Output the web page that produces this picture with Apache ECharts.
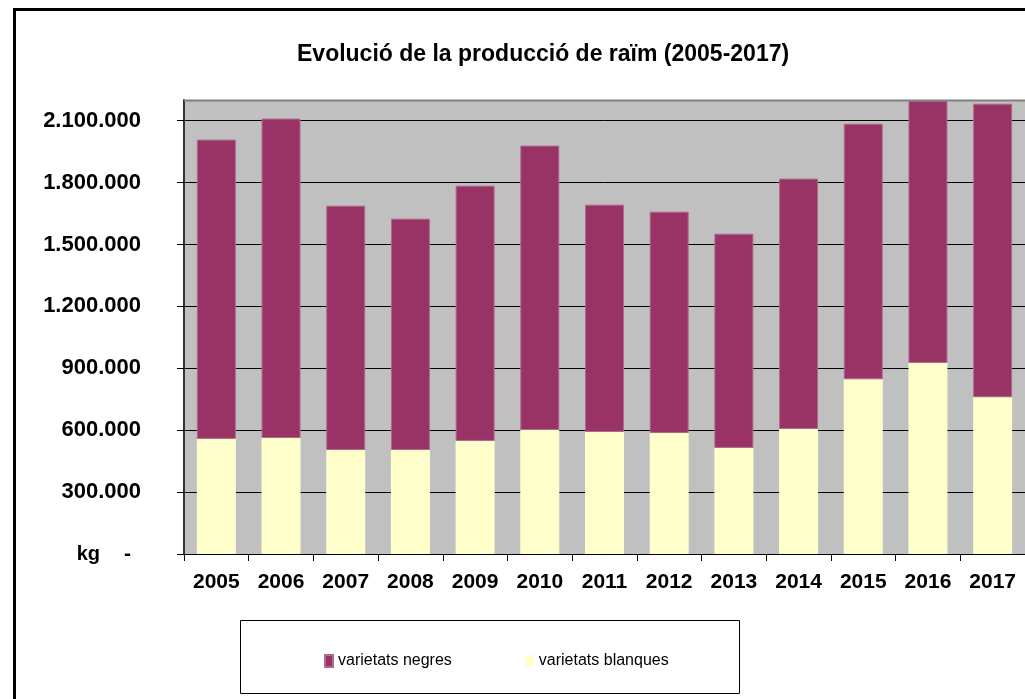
<!DOCTYPE html>
<html>
<head>
<meta charset="utf-8">
<script src="https://cdn.jsdelivr.net/npm/echarts@6/dist/echarts.min.js"></script>
<style>
  html, body { margin: 0; padding: 0; background: #fff; }
  #chart { width: 1025px; height: 699px; }
</style>
</head>
<body>
<div id="chart"></div>
<script>
// dades llegides del gràfic (kg)
var years = ['2005', '2006', '2007', '2008', '2009', '2010', '2011', '2012', '2013', '2014', '2015', '2016', '2017'];
var blanques = [558000, 562000, 504000, 504000, 548000, 601000, 591000, 586000, 514000, 606000, 847000, 926000, 760000];
var negres = [1450000, 1548000, 1184000, 1121000, 1237000, 1378000, 1102000, 1073000, 1038000, 1213000, 1238000, 1270000, 1422000];
var yTicks = [0, 300000, 600000, 900000, 1200000, 1500000, 1800000, 2100000];

var FONT = '"Liberation Sans", Arial, sans-serif';

function fmt(v) {
  return String(v).replace(/\B(?=(\d{3})+(?!\d))/g, '.');
}

var chart = echarts.init(document.getElementById('chart'));

var option = {
  backgroundColor: '#fff',
  animation: false,
  title: {
    text: 'Evolució de la producció de raïm (2005-2017)',
    left: 292,
    top: 38,
    textStyle: { fontFamily: FONT, fontSize: 23, fontWeight: 'bold', color: '#000' }
  },
  legend: {
    data: ['varietats negres', 'varietats blanques'],
    left: 319,
    top: 648,
    itemWidth: 8,
    itemHeight: 12,
    itemGap: 74,
    icon: 'rect',
    textStyle: { fontFamily: FONT, fontSize: 16, color: '#000' }
  },
  grid: {
    left: 184,
    top: 100,
    bottom: 145,
    right: -11,
    show: true,
    backgroundColor: '#c0c0c0',
    borderWidth: 0
  },
  xAxis: {
    type: 'category',
    data: years,
    axisLine: { lineStyle: { color: '#000', width: 1 } },
    axisTick: { show: true, length: 7, lineStyle: { color: '#000' } },
    axisLabel: {
      margin: 18,
      fontFamily: FONT, fontSize: 21, fontWeight: 'bold', color: '#000'
    }
  },
  yAxis: {
    type: 'value',
    min: 0,
    max: 2200000,
    interval: 300000,
    axisLine: { show: true, lineStyle: { color: '#333', width: 2 } },
    axisTick: { show: true, length: 7, lineStyle: { color: '#000' } },
    splitLine: { lineStyle: { color: '#000', width: 1 } },
    axisLabel: {
      margin: 43,
      showMaxLabel: false,
      fontFamily: FONT, fontSize: 22, fontWeight: 'bold', color: '#000',
      formatter: function (v) {
        if (yTicks.indexOf(v) < 0) return '';
        if (v === 0) return '{k|kg}{d|-}';
        return fmt(v);
      },
      rich: {
        k: { fontFamily: FONT, fontSize: 20, fontWeight: 'bold', color: '#000', padding: [0, 24, 0, 0] },
        d: { fontFamily: FONT, fontSize: 21, fontWeight: 'bold', color: '#000', padding: [0, 10, 0, 0] }
      }
    }
  },
  series: [
    {
      name: 'varietats blanques',
      type: 'bar',
      stack: 'total',
      barWidth: 39,
      data: blanques,
      itemStyle: { color: '#ffffcc' }
    },
    {
      name: 'varietats negres',
      type: 'bar',
      stack: 'total',
      barWidth: 39,
      data: negres,
      itemStyle: { color: '#993366', borderColor: '#b06a8c', borderWidth: 1 }
    }
  ],
  graphic: [
    // marc exterior
    {
      type: 'rect', z: 100,
      shape: { x: 14.5, y: 9.5, width: 1100, height: 800 },
      style: { fill: 'none', stroke: '#000', lineWidth: 3 }
    },
    // vora superior de l'àrea de traçat
    {
      type: 'line', z: 100,
      shape: { x1: 184, y1: 100.5, x2: 1025, y2: 100.5 },
      style: { stroke: '#808080', lineWidth: 2 }
    },
    // requadre de la llegenda
    {
      type: 'rect', z: 100,
      shape: { x: 240.5, y: 620.5, width: 499, height: 73 },
      style: { fill: 'none', stroke: '#000', lineWidth: 1 }
    }
  ]
};

chart.setOption(option);
</script>
</body>
</html>
